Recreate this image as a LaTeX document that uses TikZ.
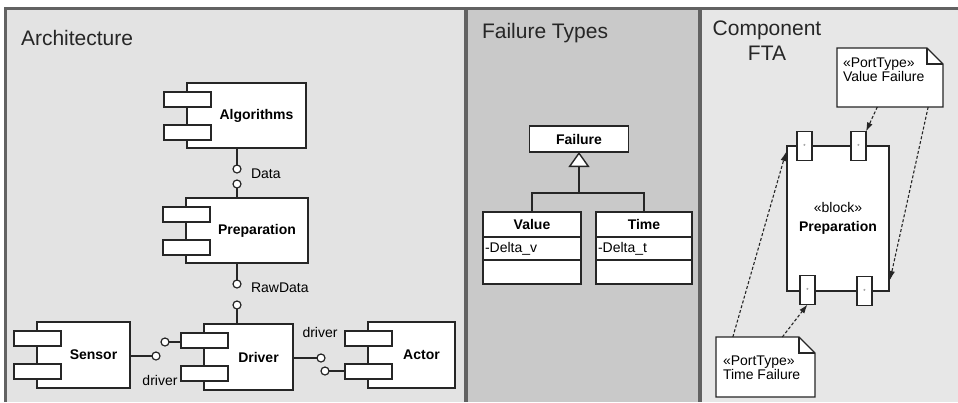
\documentclass[tikz,border=0pt]{standalone}
\usepackage{fontspec}
\setmainfont{Liberation Sans}
\usetikzlibrary{arrows.meta,calc}
\definecolor{bgA}{HTML}{E3E3E3}
\definecolor{bgB}{HTML}{C9C9C9}
\definecolor{bgC}{HTML}{E7E7E7}
\definecolor{framec}{HTML}{626262}
\definecolor{ink}{HTML}{262626}
\tikzset{
  pics/umlcomp/.style n args={3}{code={
    \node[compbox,minimum width=#2pt,minimum height=#3pt] (-main) at (0,0) {};
    \node[compport] (-p1) at (-23,9) {};
    \node[compport] (-p2) at (-23,42) {};
    \node[complabel] (-label) at ({#2/2+10},{#3/2}) {#1};
  }}
}
\begin{document}
\begin{tikzpicture}[x=1pt,y=-1pt,
  every node/.style={inner sep=0pt,outer sep=0pt},
  ln/.style={draw=ink,line width=1.4pt},
  compbox/.style={ln,fill=white,anchor=north west},
  compport/.style={ln,fill=white,anchor=north west,minimum width=47pt,minimum height=15pt},
  complabel/.style={font=\fontsize{14}{16}\selectfont\bfseries},
  ball/.style={circle,draw=ink,fill=white,line width=1.2pt,minimum size=8pt},
  conn/.style={draw=ink,line width=1.4pt},
  lbl/.style={font=\fontsize{14}{16}\selectfont},
  title/.style={font=\fontsize{21}{25}\selectfont,text=black!85},
  clsbox/.style={ln,fill=white,minimum width=98pt,anchor=north west},
  portbox/.style={ln,fill=white,minimum width=15pt,minimum height=29pt,font=\fontsize{6}{6}\selectfont,text=black!60},
  noteshape/.style={ln,fill=white,line width=1.3pt},
  notetext/.style={font=\fontsize{14}{14.5}\selectfont,align=left,anchor=west},
  trace/.style={draw=ink,line width=1.1pt,dash pattern=on 3pt off 2pt,-{Latex[length=9pt,width=6pt]}}
]
\useasboundingbox (0,0) rectangle (958,402);
% panels
\fill[white] (0,0) rectangle (958,402);
\fill[bgA] (6,8) rectangle (466,402);
\fill[bgB] (466,8) rectangle (700,402);
\fill[bgC] (700,8) rectangle (958,402);
\draw[framec,line width=3pt] (5,402) -- (5,8.5) -- (958,8.5);
\draw[framec,line width=4pt] (466,8) -- (466,402);
\draw[framec,line width=4pt] (700,8) -- (700,402);

% titles
\node[title,anchor=west] (tA) at (21,38) {Architecture};
\node[title,anchor=west] (tB) at (482,33) {Failure Types};
\node[title,align=center] (tC) at (767,40.5) {Component\\FTA};

% ===== Architecture =====
\pic (alg) at (187,83) {umlcomp={Algorithms}{119}{65}};
\pic (prep) at (186,198) {umlcomp={Preparation}{122}{65}};
\pic (drv) at (204,324) {umlcomp={Driver}{89}{66}};
\pic (sen) at (37,322) {umlcomp={Sensor}{93}{66}};
\pic (act) at (368,322) {umlcomp={Actor}{87}{66}};

\node[ball] (d1) at (237,169) {};
\node[ball] (d2) at (237,184) {};
\draw[conn] (d1 |- alg-main.south) -- (d1);
\draw[conn] (d2) -- (d2 |- prep-main.north);
\node[lbl,anchor=west] (dl) at (251,174) {Data};

\node[ball] (r1) at (237,284) {};
\node[ball] (r2) at (237,305) {};
\draw[conn] (r1 |- prep-main.south) -- (r1);
\draw[conn] (r2) -- (r2 |- drv-main.north);
\node[lbl,anchor=west] (rl) at (251,288) {RawData};

\node[ball] (s1) at (156,356) {};
\draw[conn] (sen-main.east |- s1) -- (s1);
\node[ball] (b1) at (165,342) {};
\draw[conn] (b1) -- (b1 -| drv-p1.west);
\node[lbl] (dr1) at (160,380) {driver};

\node[ball] (b2) at (321,358) {};
\draw[conn] (drv-main.east |- b2) -- (b2);
\node[ball] (b3) at (325,371) {};
\draw[conn] (b3) -- (b3 -| act-p2.west);
\node[lbl] (dr2) at (320,332) {driver};

% ===== Failure Types =====
\node[ln,fill=white,minimum width=99pt,minimum height=26pt,complabel] (fail) at (579,139) {Failure};
\node[clsbox,minimum height=25pt,complabel] (valN) at (483,212) {Value};
\node[clsbox,minimum height=23pt] (valA) at (483,237) {};
\node[clsbox,minimum height=24pt] (valO) at (483,260) {};
\node[lbl,anchor=west] (valT) at (485,248.5) {-Delta\_v};
\node[clsbox,minimum width=96pt,minimum height=25pt,complabel] (timN) at (596,212) {Time};
\node[clsbox,minimum width=96pt,minimum height=23pt] (timA) at (596,237) {};
\node[clsbox,minimum width=96pt,minimum height=24pt] (timO) at (596,260) {};
\node[lbl,anchor=west] (timT) at (598,248.5) {-Delta\_t};
\coordinate (gj) at (fail.south |- 0,193);
\draw[conn] (valN.north) -- (valN.north |- gj) -- (timN.north |- gj) -- (timN.north);
\draw[conn,-{Triangle[fill=white,length=15pt,width=21pt,line width=1.4pt]}] (gj) -- (fail.south);

% ===== Component FTA =====
\node[ln,fill=white,line width=1.7pt,minimum width=102pt,minimum height=145pt,align=center,font=\fontsize{14}{19}\selectfont] (blk) at (838,218.5) {«block»\\\bfseries Preparation};
\node[portbox] (pt1) at (804.5,146) {*};
\node[portbox] (pt2) at (858.5,146) {*};
\node[portbox] (pt3) at (807.5,290) {*};
\node[portbox] (pt4) at (864.5,291) {*};

% notes
\node[minimum width=106pt,minimum height=59pt] (vnote) at (890,77.5) {};
\draw[noteshape] (vnote.north west) -- ($(vnote.north east)+(-16,0)$) -- ($(vnote.north east)+(0,16)$) -- (vnote.south east) -- (vnote.south west) -- cycle;
\draw[ink,line width=1.1pt] ($(vnote.north east)+(-16,0)$) -- ($(vnote.north east)+(-16,16)$) -- ($(vnote.north east)+(0,16)$);
\node[notetext] (vtext) at (843,69.5) {«PortType»\\Value Failure};

\node[minimum width=99pt,minimum height=60pt] (tnote) at (765.5,367) {};
\draw[noteshape] (tnote.north west) -- ($(tnote.north east)+(-16,0)$) -- ($(tnote.north east)+(0,16)$) -- (tnote.south east) -- (tnote.south west) -- cycle;
\draw[ink,line width=1.1pt] ($(tnote.north east)+(-16,0)$) -- ($(tnote.north east)+(-16,16)$) -- ($(tnote.north east)+(0,16)$);
\node[notetext] (ttext) at (723,367.5) {«PortType»\\Time Failure};

\coordinate (v1) at ($(vnote.south west)!0.38!(vnote.south east)$);
\coordinate (v2) at ($(vnote.south west)!0.86!(vnote.south east)$);
\coordinate (t1) at ($(tnote.north west)!0.67!(tnote.north east)$);
\coordinate (t2) at ($(tnote.north west)!0.17!(tnote.north east)$);
\coordinate (bR) at ($(blk.south east)+(1,-11)$);
\coordinate (bL) at ($(blk.north west)+(-1,6)$);
\draw[trace] (v1) -- (pt2.north east);
\draw[trace] (v2) -- (bR);
\draw[trace] (t1) -- (pt3.south);
\draw[trace] (t2) -- (bL);
\end{tikzpicture}
\end{document}
